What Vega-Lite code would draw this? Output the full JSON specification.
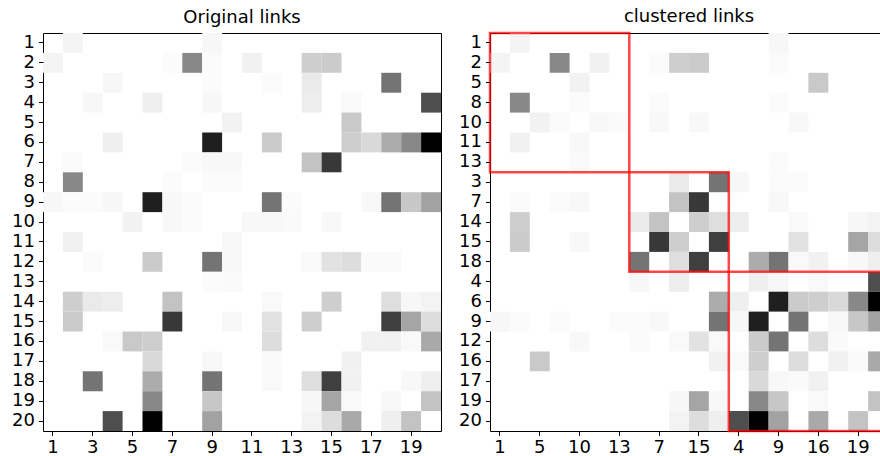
{
  "$schema": "https://vega.github.io/schema/vega-lite/v6.json",
  "padding": {"left": 0, "top": 7, "right": 0, "bottom": 0},
  "background": "white",
  "config": {
    "font": "DejaVu Sans",
    "view": {"stroke": "black", "strokeWidth": 1},
    "axis": {"labelFont": "DejaVu Sans", "labelFontSize": 18, "labelColor": "black", "tickColor": "black", "tickSize": 4.5, "tickWidth": 1, "labelPadding": 4, "domain": false, "grid": false, "labelAngle": 0},
    "axisX": {"labelPadding": 3},
    "title": {"font": "DejaVu Sans", "fontSize": 18, "fontWeight": "normal", "color": "black", "offset": 6},
    "concat": {"spacing": 5}
  },
  "datasets": {
    "links": [
      {"row":1,"col":2,"w":0.09},{"row":2,"col":1,"w":0.09},
      {"row":1,"col":9,"w":0.07},{"row":9,"col":1,"w":0.07},
      {"row":2,"col":7,"w":0.03},{"row":7,"col":2,"w":0.03},
      {"row":2,"col":8,"w":0.55},{"row":8,"col":2,"w":0.55},
      {"row":2,"col":9,"w":0.03},{"row":9,"col":2,"w":0.03},
      {"row":2,"col":11,"w":0.12},{"row":11,"col":2,"w":0.12},
      {"row":2,"col":14,"w":0.3},{"row":14,"col":2,"w":0.3},
      {"row":2,"col":15,"w":0.31},{"row":15,"col":2,"w":0.31},
      {"row":3,"col":4,"w":0.07},{"row":4,"col":3,"w":0.07},
      {"row":3,"col":9,"w":0.03},{"row":9,"col":3,"w":0.03},
      {"row":3,"col":12,"w":0.03},{"row":12,"col":3,"w":0.03},
      {"row":3,"col":14,"w":0.16},{"row":14,"col":3,"w":0.16},
      {"row":3,"col":18,"w":0.62},{"row":18,"col":3,"w":0.62},
      {"row":4,"col":6,"w":0.13},{"row":6,"col":4,"w":0.13},
      {"row":4,"col":9,"w":0.07},{"row":9,"col":4,"w":0.07},
      {"row":4,"col":14,"w":0.14},{"row":14,"col":4,"w":0.14},
      {"row":4,"col":16,"w":0.05},{"row":16,"col":4,"w":0.05},
      {"row":4,"col":20,"w":0.76},{"row":20,"col":4,"w":0.76},
      {"row":5,"col":10,"w":0.11},{"row":10,"col":5,"w":0.11},
      {"row":5,"col":16,"w":0.32},{"row":16,"col":5,"w":0.32},
      {"row":6,"col":9,"w":0.9},{"row":9,"col":6,"w":0.9},
      {"row":6,"col":12,"w":0.31},{"row":12,"col":6,"w":0.31},
      {"row":6,"col":16,"w":0.3},{"row":16,"col":6,"w":0.3},
      {"row":6,"col":17,"w":0.25},{"row":17,"col":6,"w":0.25},
      {"row":6,"col":18,"w":0.43},{"row":18,"col":6,"w":0.43},
      {"row":6,"col":19,"w":0.55},{"row":19,"col":6,"w":0.55},
      {"row":6,"col":20,"w":1.0},{"row":20,"col":6,"w":1.0},
      {"row":7,"col":8,"w":0.03},{"row":8,"col":7,"w":0.03},
      {"row":7,"col":9,"w":0.06},{"row":9,"col":7,"w":0.06},
      {"row":7,"col":10,"w":0.06},{"row":10,"col":7,"w":0.06},
      {"row":7,"col":14,"w":0.35},{"row":14,"col":7,"w":0.35},
      {"row":7,"col":15,"w":0.82},{"row":15,"col":7,"w":0.82},
      {"row":8,"col":9,"w":0.03},{"row":9,"col":8,"w":0.03},
      {"row":8,"col":10,"w":0.03},{"row":10,"col":8,"w":0.03},
      {"row":9,"col":12,"w":0.62},{"row":12,"col":9,"w":0.62},
      {"row":9,"col":13,"w":0.03},{"row":13,"col":9,"w":0.03},
      {"row":9,"col":17,"w":0.06},{"row":17,"col":9,"w":0.06},
      {"row":9,"col":18,"w":0.62},{"row":18,"col":9,"w":0.62},
      {"row":9,"col":19,"w":0.33},{"row":19,"col":9,"w":0.33},
      {"row":9,"col":20,"w":0.46},{"row":20,"col":9,"w":0.46},
      {"row":10,"col":11,"w":0.06},{"row":11,"col":10,"w":0.06},
      {"row":10,"col":12,"w":0.06},{"row":12,"col":10,"w":0.06},
      {"row":10,"col":13,"w":0.04},{"row":13,"col":10,"w":0.04},
      {"row":10,"col":15,"w":0.06},{"row":15,"col":10,"w":0.06},
      {"row":12,"col":14,"w":0.05},{"row":14,"col":12,"w":0.05},
      {"row":12,"col":15,"w":0.2},{"row":15,"col":12,"w":0.2},
      {"row":12,"col":16,"w":0.23},{"row":16,"col":12,"w":0.23},
      {"row":12,"col":17,"w":0.04},{"row":17,"col":12,"w":0.04},
      {"row":12,"col":18,"w":0.05},{"row":18,"col":12,"w":0.05},
      {"row":14,"col":15,"w":0.3},{"row":15,"col":14,"w":0.3},
      {"row":14,"col":18,"w":0.22},{"row":18,"col":14,"w":0.22},
      {"row":14,"col":19,"w":0.07},{"row":19,"col":14,"w":0.07},
      {"row":14,"col":20,"w":0.1},{"row":20,"col":14,"w":0.1},
      {"row":15,"col":18,"w":0.8},{"row":18,"col":15,"w":0.8},
      {"row":15,"col":19,"w":0.45},{"row":19,"col":15,"w":0.45},
      {"row":15,"col":20,"w":0.23},{"row":20,"col":15,"w":0.23},
      {"row":16,"col":17,"w":0.12},{"row":17,"col":16,"w":0.12},
      {"row":16,"col":18,"w":0.12},{"row":18,"col":16,"w":0.12},
      {"row":16,"col":19,"w":0.05},{"row":19,"col":16,"w":0.05},
      {"row":16,"col":20,"w":0.44},{"row":20,"col":16,"w":0.44},
      {"row":18,"col":19,"w":0.06},{"row":19,"col":18,"w":0.06},
      {"row":18,"col":20,"w":0.13},{"row":20,"col":18,"w":0.13},
      {"row":19,"col":20,"w":0.35},{"row":20,"col":19,"w":0.35}
    ],
    "boxes": [
      {"cluster": "A", "first": 1, "last": 13},
      {"cluster": "B", "first": 3, "last": 18},
      {"cluster": "C", "first": 4, "last": 20}
    ]
  },
  "hconcat": [
    {
      "title": "Original links",
      "width": 398,
      "height": 398,
      "data": {"name": "links"},
      "mark": {"type": "rect"},
      "encoding": {
        "x": {"field": "col", "type": "ordinal", "title": null,
              "scale": {"domain": [1,2,3,4,5,6,7,8,9,10,11,12,13,14,15,16,17,18,19,20], "paddingInner": 0, "paddingOuter": 0},
              "axis": {"values": [1,3,5,7,9,11,13,15,17,19]}},
        "y": {"field": "row", "type": "ordinal", "title": null,
              "scale": {"domain": [1,2,3,4,5,6,7,8,9,10,11,12,13,14,15,16,17,18,19,20], "paddingInner": 0, "paddingOuter": 0},
              "axis": {"minExtent": 42, "maxExtent": 42}},
        "color": {"field": "w", "type": "quantitative", "legend": null,
                  "scale": {"domain": [0, 0.125, 0.25, 0.375, 0.5, 0.625, 0.75, 0.875, 1],
                            "range": ["#ffffff", "#f0f0f0", "#d9d9d9", "#bdbdbd", "#969696", "#737373", "#525252", "#252525", "#000000"]}}
      }
    },
    {
      "title": "clustered links",
      "width": 398,
      "height": 398,
      "layer": [
        {
          "data": {"name": "links"},
          "mark": {"type": "rect"},
          "encoding": {
            "x": {"field": "col", "type": "ordinal", "title": null,
                  "scale": {"domain": [1,2,5,8,10,11,13,3,7,14,15,18,4,6,9,12,16,17,19,20], "paddingInner": 0, "paddingOuter": 0},
                  "axis": {"values": [1,5,10,13,7,15,4,9,16,19]}},
            "y": {"field": "row", "type": "ordinal", "title": null,
                  "scale": {"domain": [1,2,5,8,10,11,13,3,7,14,15,18,4,6,9,12,16,17,19,20], "paddingInner": 0, "paddingOuter": 0},
                  "axis": {"minExtent": 42, "maxExtent": 42}},
            "color": {"field": "w", "type": "quantitative", "legend": null,
                      "scale": {"domain": [0, 0.125, 0.25, 0.375, 0.5, 0.625, 0.75, 0.875, 1],
                                "range": ["#ffffff", "#f0f0f0", "#d9d9d9", "#bdbdbd", "#969696", "#737373", "#525252", "#252525", "#000000"]}}
          }
        },
        {
          "data": {"name": "boxes"},
          "mark": {"type": "rect", "fillOpacity": 0, "stroke": "#ff0000", "strokeWidth": 2.5, "strokeOpacity": 0.72},
          "encoding": {
            "x": {"field": "first", "type": "ordinal", "title": null, "bandPosition": 0},
            "x2": {"field": "last", "bandPosition": 1},
            "y": {"field": "first", "type": "ordinal", "title": null, "bandPosition": 0},
            "y2": {"field": "last", "bandPosition": 1}
          }
        }
      ]
    }
  ]
}
